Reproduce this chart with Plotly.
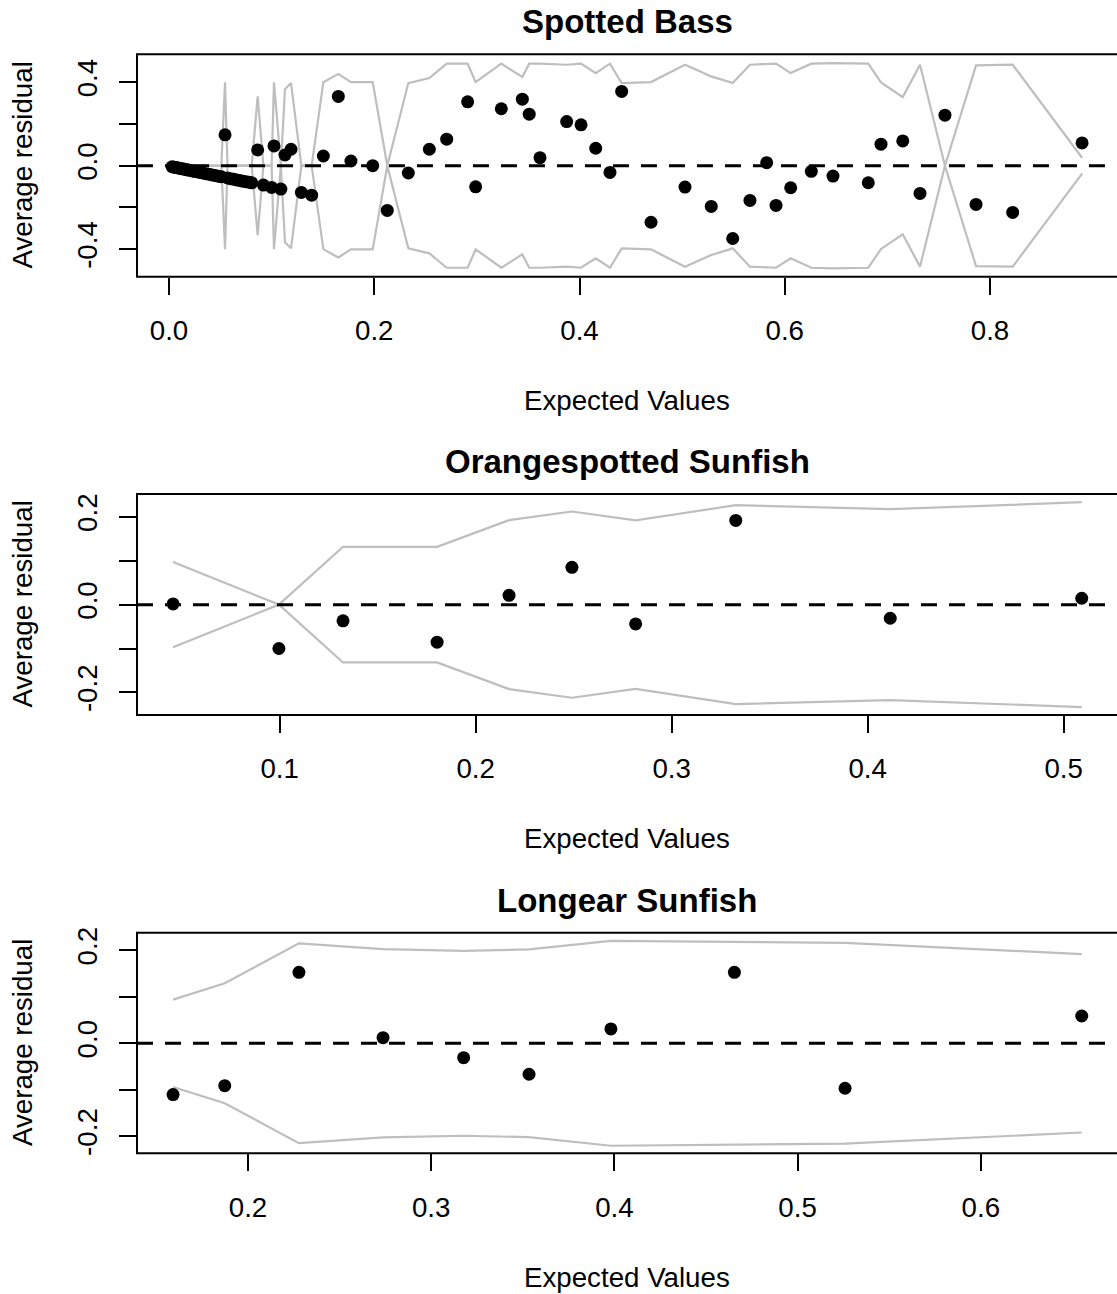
import plotly.graph_objects as go

# ---------------- data ----------------
# Spotted Bass
sb_x = [0.003, 0.005, 0.007, 0.009, 0.011, 0.013, 0.015, 0.017, 0.019, 0.021,
        0.023, 0.025, 0.027, 0.030, 0.033, 0.036, 0.039, 0.042, 0.045, 0.048,
        0.051, 0.0546, 0.057, 0.060, 0.063, 0.066, 0.069, 0.072, 0.075, 0.078,
        0.0806, 0.0864, 0.092, 0.100, 0.1023, 0.109, 0.113, 0.1189, 0.129, 0.139,
        0.1504, 0.165, 0.1773, 0.1985, 0.2127, 0.2332, 0.2537, 0.2706, 0.291, 0.2988,
        0.3238, 0.3443, 0.351, 0.3615, 0.3875, 0.4015, 0.4158, 0.4297, 0.4411, 0.4697,
        0.5028, 0.5284, 0.5493, 0.5661, 0.5824, 0.5915, 0.6058, 0.6259, 0.647, 0.6814,
        0.6938, 0.715, 0.7318, 0.7561, 0.7864, 0.8221, 0.8897]
sb_y = [-0.005, -0.007, -0.009, -0.011, -0.013, -0.015, -0.017, -0.019, -0.021, -0.023,
        -0.025, -0.027, -0.029, -0.032, -0.035, -0.038, -0.041, -0.044, -0.047, -0.050,
        -0.053, 0.148, -0.059, -0.062, -0.065, -0.068, -0.071, -0.074, -0.077, -0.079,
        -0.082, 0.0755, -0.093, -0.104, 0.0947, -0.112, 0.0514, 0.079, -0.128, -0.141,
        0.0466, 0.332, 0.0226, 0.0, -0.2145, -0.035, 0.079, 0.127, 0.306, -0.101,
        0.273, 0.319, 0.247, 0.0385, 0.2115, 0.196, 0.0837, -0.032, 0.356, -0.271,
        -0.1025, -0.195, -0.349, -0.1665, 0.0144, -0.1905, -0.1056, -0.027, -0.0495, -0.0817,
        0.103, 0.119, -0.133, 0.242, -0.1856, -0.224, 0.109]
sb_band = [0.0, 0.0, 0.0, 0.0, 0.0, 0.0, 0.0, 0.0, 0.0, 0.0,
           0.0, 0.0, 0.0, 0.0, 0.0, 0.0, 0.0, 0.0, 0.0, 0.0,
           0.0, 0.40, 0.0, 0.0, 0.0, 0.0, 0.0, 0.0, 0.0, 0.0,
           0.0, 0.333, 0.0, 0.0, 0.40, 0.0, 0.367, 0.396, 0.0, 0.0,
           0.40, 0.44, 0.401, 0.401, 0.0, 0.396, 0.42, 0.489, 0.489, 0.401,
           0.489, 0.425, 0.489, 0.489, 0.484, 0.489, 0.444, 0.489, 0.396, 0.401,
           0.484, 0.428, 0.396, 0.484, 0.489, 0.489, 0.444, 0.489, 0.492, 0.489,
           0.399, 0.329, 0.484, 0.0, 0.481, 0.484, 0.038]

# Orangespotted Sunfish
os_x = [0.0456, 0.0996, 0.1323, 0.1803, 0.217, 0.2491, 0.2816, 0.3327, 0.4115, 0.5092]
os_y = [0.0016, -0.100, -0.037, -0.0855, 0.0213, 0.085, -0.0439, 0.1918, -0.031, 0.0145]
os_band = [0.097, 0.0, 0.1318, 0.1318, 0.1925, 0.2122, 0.1918, 0.2266, 0.2175, 0.2334]

# Longear Sunfish
ls_x = [0.1591, 0.1873, 0.2278, 0.2737, 0.3177, 0.3534, 0.3981, 0.4655, 0.5259, 0.6551]
ls_y = [-0.1105, -0.0912, 0.1527, 0.012, -0.031, -0.0667, 0.0308, 0.1527, -0.0968, 0.0587]
ls_band = [0.094, 0.129, 0.215, 0.2025, 0.199, 0.202, 0.2205, 0.218, 0.216, 0.192]

titles = ["Spotted Bass", "Orangespotted Sunfish", "Longear Sunfish"]
x_title = "Expected Values"
y_title = "Average residual"

sb_xticks = [0.0, 0.2, 0.4, 0.6, 0.8]
os_xticks = [0.1, 0.2, 0.3, 0.4, 0.5]
ls_xticks = [0.2, 0.3, 0.4, 0.5, 0.6]
sb_yticks = [-0.4, -0.2, 0.0, 0.2, 0.4]
sb_ytext = ["-0.4", "", "0.0", "", "0.4"]
sm_yticks = [-0.2, -0.1, 0.0, 0.1, 0.2]
sm_ytext = ["-0.2", "", "0.0", "", "0.2"]

# ---------------- layout geometry ----------------
W, H = 1117, 1294
PL = 137          # plot-area left pixel
PR = 1117         # domain right pixel (frame itself sits just off-canvas)
FONT = "Liberation Sans, Arial, Helvetica, sans-serif"
GRAY = "#BEBEBE"
TXT = 27.7

panels = [
    dict(x=sb_x, y=sb_y, b=sb_band, top=54.3, bot=276.7,
         xr=[-0.03118, 0.92375], yr=[-0.532, 0.534],
         xt=sb_xticks, xtt=["%.1f" % v for v in sb_xticks], yt=sb_yticks, ytt=sb_ytext,
         ttl_y=22, xl_y=400),
    dict(x=os_x, y=os_y, b=os_band, top=494, bot=715,
         xr=[0.02719, 0.52719], yr=[-0.2515, 0.2521],
         xt=os_xticks, xtt=["%.1f" % v for v in os_xticks], yt=sm_yticks, ytt=sm_ytext,
         ttl_y=461, xl_y=838),
    dict(x=ls_x, y=ls_y, b=ls_band, top=932.7, bot=1153.3,
         xr=[0.13941, 0.67434], yr=[-0.2368, 0.238],
         xt=ls_xticks, xtt=["%.1f" % v for v in ls_xticks], yt=sm_yticks, ytt=sm_ytext,
         ttl_y=900, xl_y=1277),
]

fig = go.Figure()
shapes = []
annotations = []
layout_axes = {}
xc = (PL + PR) / 2 / W

for i, p in enumerate(panels, start=1):
    xa = "x" if i == 1 else "x%d" % i
    ya = "y" if i == 1 else "y%d" % i
    upper = [v for v in p["b"]]
    lower = [-v for v in p["b"]]
    fig.add_trace(go.Scatter(x=p["x"], y=upper, mode="lines",
                             line=dict(color=GRAY, width=2.2), xaxis=xa, yaxis=ya,
                             hoverinfo="skip"))
    fig.add_trace(go.Scatter(x=p["x"], y=lower, mode="lines",
                             line=dict(color=GRAY, width=2.2), xaxis=xa, yaxis=ya,
                             hoverinfo="skip"))
    fig.add_trace(go.Scatter(x=p["x"], y=p["y"], mode="markers",
                             marker=dict(color="black", size=13, line=dict(width=0)),
                             xaxis=xa, yaxis=ya))

    ydom = [1 - p["bot"] / H, 1 - p["top"] / H]
    xkey = "xaxis" if i == 1 else "xaxis%d" % i
    ykey = "yaxis" if i == 1 else "yaxis%d" % i
    layout_axes[xkey] = dict(
        domain=[PL / W, PR / W], range=p["xr"], anchor=ya,
        showgrid=False, zeroline=False, showline=False,
        ticks="outside", ticklen=17, tickwidth=2, tickcolor="black",
        tickvals=p["xt"], ticktext=p["xtt"], ticklabelstandoff=12,
        tickfont=dict(family=FONT, size=TXT, color="black"), automargin=False,
    )
    layout_axes[ykey] = dict(
        domain=ydom, range=p["yr"], anchor=xa,
        showgrid=False, zeroline=False, showline=False,
        ticks="outside", ticklen=17, tickwidth=2, tickcolor="black",
        tickvals=p["yt"], ticktext=p["ytt"], tickangle=-90, ticklabelstandoff=11,
        tickfont=dict(family=FONT, size=TXT, color="black"), automargin=False,
    )
    xd = xa + " domain"
    yd = ya + " domain"
    # dashed zero reference line
    shapes.append(dict(type="line", xref=xd, yref=ya, x0=0, x1=1, y0=0, y1=0,
                       line=dict(color="black", width=3, dash="16px,12px"), layer="above"))
    # frame box (right edge just beyond canvas)
    shapes.append(dict(type="rect", xref=xd, yref=yd, x0=0, x1=(1118 - PL) / (PR - PL),
                       y0=0, y1=1, line=dict(color="black", width=2), layer="above"))
    # title
    annotations.append(dict(text="<b>%s</b>" % titles[i - 1], xref="paper", yref="paper",
                            x=xc, y=1 - p["ttl_y"] / H, xanchor="center", yanchor="middle",
                            showarrow=False, font=dict(family=FONT, size=33, color="black")))
    annotations.append(dict(text=x_title, xref="paper", yref="paper",
                            x=xc, y=1 - p["xl_y"] / H, xanchor="center", yanchor="middle",
                            showarrow=False, font=dict(family=FONT, size=TXT, color="black")))
    annotations.append(dict(text=y_title, xref="paper", yref="paper",
                            x=22 / W, y=1 - (p["top"] + p["bot"]) / 2 / H,
                            xanchor="center", yanchor="middle", textangle=-90,
                            showarrow=False, font=dict(family=FONT, size=TXT, color="black")))

fig.update_layout(width=W, height=H, margin=dict(l=0, r=0, t=0, b=0),
                  paper_bgcolor="white", plot_bgcolor="white", showlegend=False,
                  shapes=shapes, annotations=annotations, **layout_axes)

fig.write_html("out.html")
